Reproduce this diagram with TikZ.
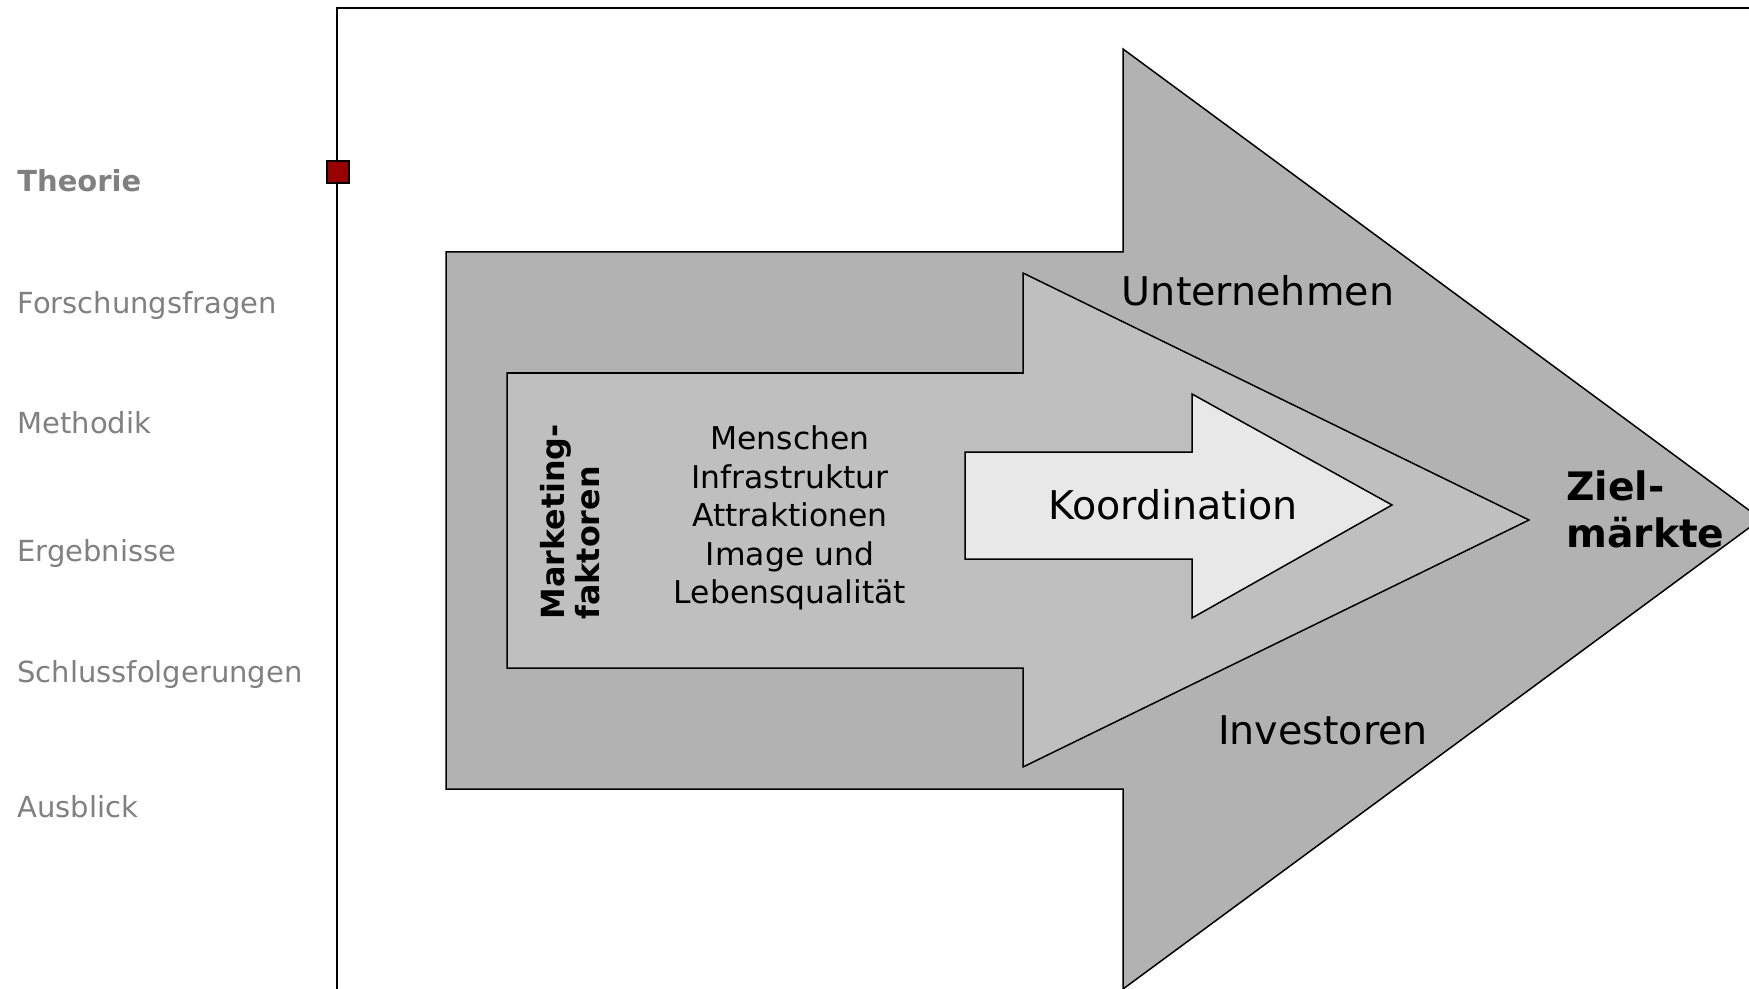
\documentclass[tikz,border=0pt]{standalone}
\usepackage{fontspec}
\setmainfont{DejaVu Sans}
\begin{document}
\begin{tikzpicture}[x=0.5pt,y=-0.5pt,
  menu/.style={anchor=west,inner sep=0pt,text=black!50,font=\fontsize{14.5}{17}\selectfont},
  arrowshape/.style={draw=black,line width=0.75pt,line join=miter},
  big/.style={font=\fontsize{19.8}{24}\selectfont,inner sep=0pt}]
\useasboundingbox (0,0) rectangle (1749,989);
\begin{scope}
\clip (0,0) rectangle (1749,989);
% frame
\draw[line width=1.1pt] (337,1000) -- (337,8) -- (1760,8);
% outer arrow
\draw[arrowshape,fill=black!30] (446,252) -- (1123,252) -- (1123,49) -- (1761,519) -- (1123,989) -- (1123,789) -- (446,789) -- cycle;
% middle arrow
\draw[arrowshape,fill=black!25] (507,373) -- (1023,373) -- (1023,273) -- (1529,520) -- (1023,767) -- (1023,668) -- (507,668) -- cycle;
% inner arrow
\draw[arrowshape,fill=black!9] (965,452) -- (1192,452) -- (1192,394) -- (1392,505) -- (1192,618) -- (1192,559) -- (965,559) -- cycle;
\end{scope}
% marker
\node[draw=black,line width=0.9pt,fill=red!60!black,minimum size=11pt,inner sep=0pt] (mark) at (338,172) {};
% menu
\node[menu,font=\fontsize{14.5}{17}\selectfont\bfseries] (theorie) at (17,181) {Theorie};
\node[menu] (forsch) at (17,305) {Forschungsfragen};
\node[menu] (meth) at (17,423) {Methodik};
\node[menu] (erg) at (17,553) {Ergebnisse};
\node[menu] (schluss) at (17,674) {Schlussfolgerungen};
\node[menu] (aus) at (17,807) {Ausblick};
% labels
\node[big] (unt) at (1258,291) {Unternehmen};
\node[big] (inv) at (1323,730) {Investoren};
\node[big] (koord) at (1173,505) {Koordination};
\node[anchor=west,inner sep=0pt,align=left,font=\fontsize{19.6}{23.5}\selectfont\bfseries] (ziel) at (1566,509) {Ziel-\\märkte};
\node[rotate=90,anchor=west,inner sep=0pt,align=left,font=\fontsize{15.9}{17.8}\selectfont\bfseries] (mf) at (570,620) {Marketing-\\faktoren};
\node[inner sep=0pt,align=center,font=\fontsize{15.7}{19.3}\selectfont] (list) at (790,518) {Menschen\\Infrastruktur\\Attraktionen\\Image und\\Lebensqualität};
\end{tikzpicture}
\end{document}
